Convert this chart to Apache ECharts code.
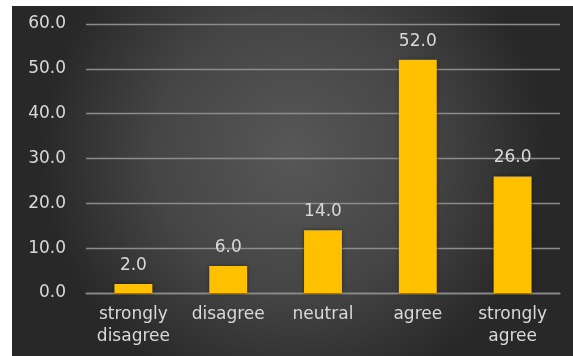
<!DOCTYPE html>
<html>
<head>
<meta charset="utf-8">
<script src="https://cdn.jsdelivr.net/npm/echarts@6/dist/echarts.min.js"></script>
<style>
  html, body { margin: 0; padding: 0; background: #ffffff; }
  #chart { width: 573px; height: 356px; }
</style>
</head>
<body>
<div id="chart"></div>
<script>
// Survey response distribution (%)
const categories = ['strongly\ndisagree', 'disagree', 'neutral', 'agree', 'strongly\nagree'];
const values = [2.0, 6.0, 14.0, 52.0, 26.0];
const yTicks = { min: 0, max: 60, interval: 10 };

const textColor = '#d9d9d9';
const gridColor = '#8c8c8c';
const fontFamily = '"DejaVu Sans", sans-serif';

const chart = echarts.init(document.getElementById('chart'), null, { renderer: 'canvas' });

chart.setOption({
  backgroundColor: '#ffffff',
  animation: false,
  graphic: [{
    type: 'rect',
    z: -10,
    silent: true,
    shape: { x: 12, y: 6, width: 561, height: 350 },
    style: {
      fill: {
        type: 'radial', x: 0.5, y: 0.42, r: 0.72,
        colorStops: [
          { offset: 0, color: '#575757' },
          { offset: 0.55, color: '#454545' },
          { offset: 1, color: '#282828' }
        ]
      }
    }
  }],
  grid: { left: 86, right: 13, top: 24, bottom: 63, containLabel: false },
  xAxis: {
    type: 'category',
    data: categories,
    axisTick: { show: false },
    axisLine: { show: true, lineStyle: { color: gridColor, width: 1.3 } },
    axisLabel: {
      color: textColor, fontSize: 17, fontFamily: fontFamily,
      lineHeight: 22, margin: 11, interval: 0
    }
  },
  yAxis: {
    type: 'value',
    min: yTicks.min, max: yTicks.max, interval: yTicks.interval,
    axisLine: { show: false },
    axisTick: { show: false },
    splitLine: { lineStyle: { color: gridColor, width: 1.3 } },
    axisLabel: {
      color: textColor, fontSize: 17, fontFamily: fontFamily, margin: 20,
      formatter: v => v.toFixed(1)
    }
  },
  series: [{
    type: 'bar',
    data: values,
    barWidth: '40%',
    itemStyle: {
      color: '#ffc000',
      shadowColor: 'rgba(0,0,0,0.45)',
      shadowBlur: 4
    },
    label: {
      show: true, position: 'top', distance: 10,
      color: textColor, fontSize: 17, fontFamily: fontFamily,
      formatter: p => p.value.toFixed(1)
    }
  }]
});
</script>
</body>
</html>
